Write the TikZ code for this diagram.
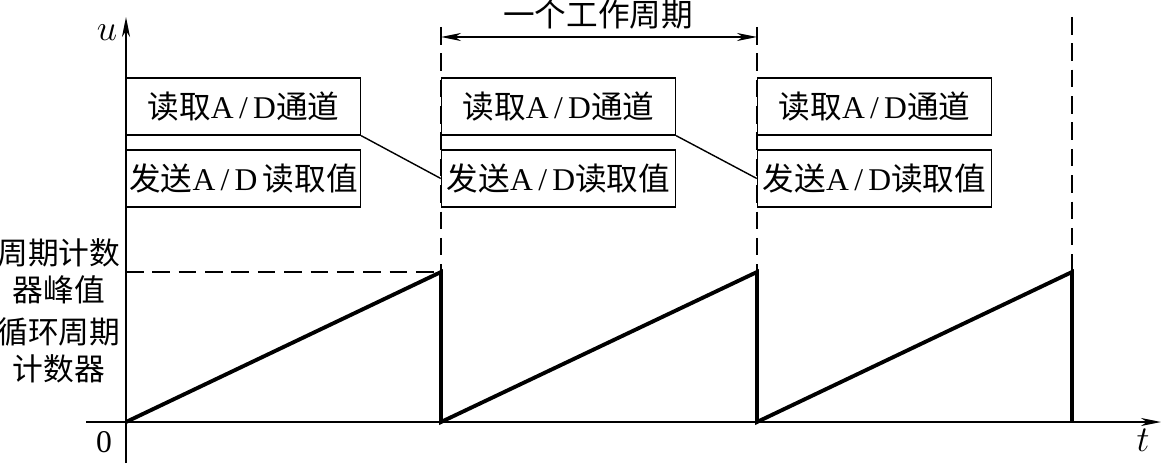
\documentclass[tikz,border=0pt]{standalone}
\usepackage{fontspec}
\setmainfont{Liberation Serif}
\newfontfamily\cjk{Noto Sans CJK SC}
\usepackage{tikz,xcolor}
\usetikzlibrary{arrows.meta,calc}

\tikzset{
  taskbox/.style={draw, fill=white, line width=0.8pt, minimum width=4.68cm, minimum height=1.14cm, inner sep=0pt, font=\fontsize{18}{20}\selectfont},
  guide/.style={line width=0.8pt, dash pattern=on 10pt off 5pt},
  axis/.style={line width=1pt, -{Stealth[length=4mm,width=1.6mm,inset=1.2mm]}},
  sawline/.style={line width=2.2pt, line join=miter},
  lbl/.style={font=\fontsize{17.5}{21}\selectfont, align=center, inner sep=0pt}
}

\begin{document}
\begin{tikzpicture}
\useasboundingbox (0,0) rectangle (23.24,9.26);

%guides
\draw[guide] (8.82,8.72) -- (8.82,3.82);
\draw[guide] (15.14,8.72) -- (15.14,3.82);
\draw[guide] (21.44,8.92) -- (21.44,3.82);
\draw[guide] (2.52,3.82) -- (8.82,3.82);

%axes
\coordinate (o) at (2.52,0.82);
\draw[axis] (2.52,0) -- (2.52,8.92);
\draw[axis] (1.72,0.82) -- (23.22,0.82);
\node at (2.14,8.6) {\fontsize{20}{22}\selectfont$u$};
\node at (22.86,0.46) {\fontsize{20}{22}\selectfont$t$};
\node at (2.08,0.42) {\fontsize{18}{20}\selectfont 0};

%period
\draw[line width=0.8pt, {Stealth[length=4mm,width=1.6mm,inset=1.2mm]}-{Stealth[length=4mm,width=1.6mm,inset=1.2mm]}] (8.82,8.52) -- (15.14,8.52);
\node (period) at (11.96,8.96) {\fontsize{18}{20}\selectfont\cjk 一个工作周期};

%tasks
\node[taskbox] (read1) at (4.87,7.13) {{\cjk 读取}A\,/\,D{\cjk 通道}};
\node[taskbox] (send1) at (4.87,5.69) {{\cjk 发送}A\,/\,D\,{\cjk 读取值}};
\node[taskbox] (read2) at (11.17,7.13) {{\cjk 读取}A\,/\,D{\cjk 通道}};
\node[taskbox] (send2) at (11.17,5.69) {{\cjk 发送}A\,/\,D{\cjk 读取值}};
\node[taskbox] (read3) at (17.49,7.13) {{\cjk 读取}A\,/\,D{\cjk 通道}};
\node[taskbox] (send3) at (17.49,5.69) {{\cjk 发送}A\,/\,D{\cjk 读取值}};

\draw[line width=0.8pt] (read1.south east) -- (send2.west);
\draw[line width=0.8pt] (read2.south east) -- (send3.west);

%sawtooth
\draw[sawline] (o) -- (8.82,3.82) -- (8.82,0.82) -- (15.14,3.82) -- (15.14,0.82) -- (21.44,3.82) -- (21.44,0.82);

%left labels
\node[lbl] (peak) at (1.18,3.83) {\cjk 周期计数\\\cjk 器峰值};
\node[lbl] (count) at (1.18,2.26) {\cjk 循环周期\\\cjk 计数器};

\end{tikzpicture}
\end{document}
